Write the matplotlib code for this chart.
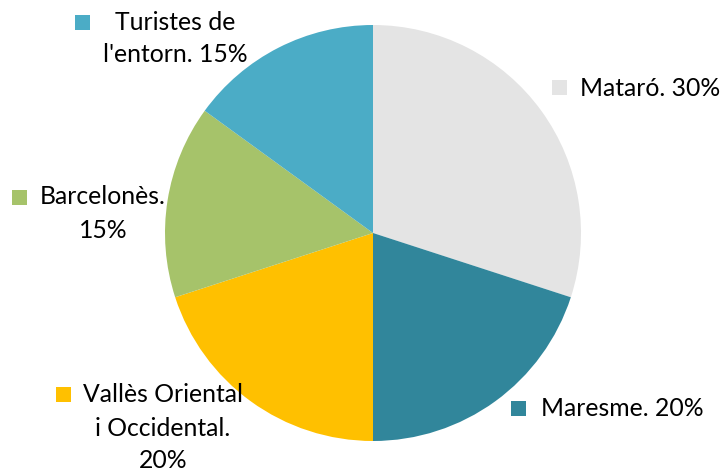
import matplotlib.pyplot as plt
from matplotlib.patches import Rectangle

# Share of visitors by origin
categories = ["Mataró", "Maresme", "Vallès Oriental i Occidental", "Barcelonès", "Turistes de l'entorn"]
shares = [30, 20, 20, 15, 15]
colors = ["#E4E4E4", "#31869B", "#FFC000", "#A6C36A", "#4BACC6"]
label_lines = [
    ["Mataró. 30%"],
    ["Maresme. 20%"],
    ["Vallès Oriental", "i Occidental.", "20%"],
    ["Barcelonès.", "15%"],
    ["Turistes de", "l'entorn. 15%"],
]

W, H = 723, 471
CX, CY, R = 373, 233, 208

fig = plt.figure(figsize=(W / 100, H / 100), dpi=100)
ax = fig.add_axes([0, 0, 1, 1])
ax.pie(shares, colors=colors, startangle=90, counterclock=False, radius=1,
       wedgeprops=dict(linewidth=0))
ax.set_xlim(-CX / R, (W - CX) / R)
ax.set_ylim(-(H - CY) / R, CY / R)
ax.set_aspect("equal")
ax.axis("off")


def px(x, y):
    return (x - CX) / R, (CY - y) / R


# label layout: (square left, square top, text x, first line y, alignment)
layout = [
    (552, 80, 580, 88, "left"),
    (511, 401, 541, 408, "left"),
    (56, 387, 163, 395, "center"),
    (12, 190, 103, 197, "center"),
    (75, 15, 175, 22, "center"),
]
LINE = 33
SQ = 15
font = dict(family="Lato", size=17.8, color="#000000")

for (sx, sy, tx, ty, ha), lines, col in zip(layout, label_lines, colors):
    x0, y0 = px(sx, sy + SQ)
    ax.add_patch(Rectangle((x0, y0), SQ / R, SQ / R, facecolor=col, edgecolor="none",
                           clip_on=False))
    for i, line in enumerate(lines):
        lx, ly = px(tx, ty + i * LINE)
        ax.text(lx, ly, line, ha=ha, va="center", **font)

fig.savefig("out.png", dpi=100)
